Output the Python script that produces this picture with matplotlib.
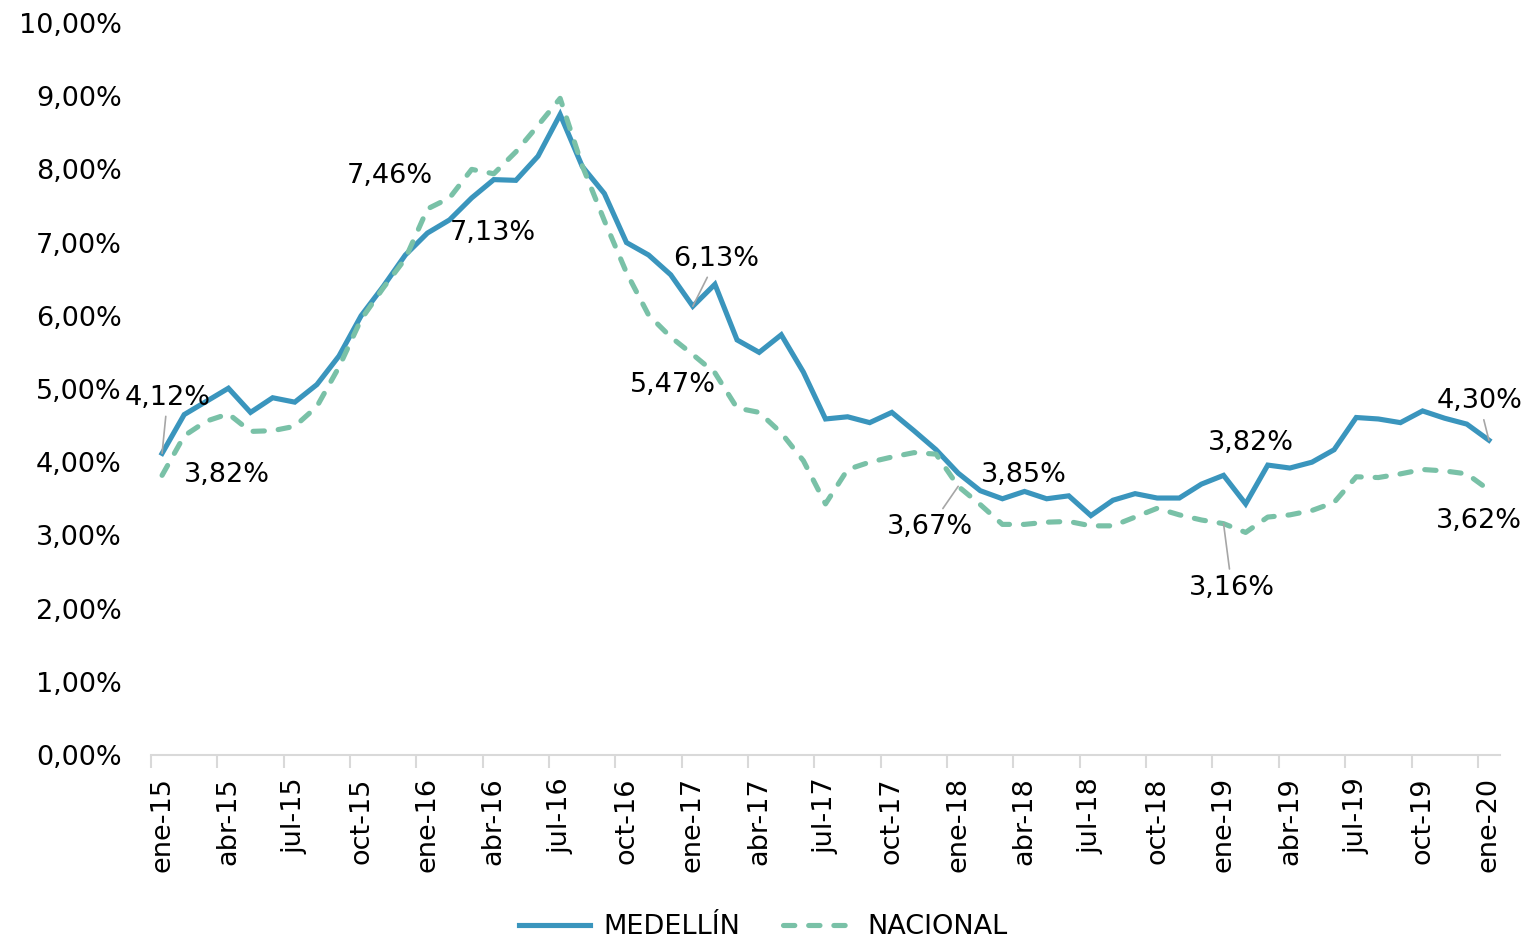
import numpy as np
import matplotlib
matplotlib.use("Agg")
import matplotlib.pyplot as plt

plt.rcParams['font.family'] = ['DejaVu Sans']

# monthly series ene-15 .. ene-20 (percent)
meses = ['ene', 'feb', 'mar', 'abr', 'may', 'jun', 'jul', 'ago', 'sep', 'oct', 'nov', 'dic']
fechas = [f"{meses[m]}-{a}" for a in range(15, 21) for m in range(12)][:61]

medellin = [4.12, 4.65, 4.83, 5.01, 4.68, 4.88, 4.82, 5.06, 5.45, 6.00,
            6.40, 6.83, 7.13, 7.31, 7.61, 7.86, 7.85, 8.18, 8.75, 8.04,
            7.67, 7.00, 6.83, 6.56, 6.13, 6.43, 5.67, 5.50, 5.74, 5.23,
            4.59, 4.62, 4.54, 4.68, 4.43, 4.17, 3.85, 3.61, 3.50, 3.60,
            3.50, 3.54, 3.27, 3.48, 3.57, 3.51, 3.51, 3.70, 3.82, 3.43,
            3.96, 3.92, 4.00, 4.17, 4.61, 4.59, 4.54, 4.70, 4.60, 4.52,
            4.30]

nacional = [3.82, 4.36, 4.56, 4.66, 4.42, 4.43, 4.49, 4.76, 5.30, 5.95,
            6.38, 6.78, 7.46, 7.61, 8.00, 7.94, 8.24, 8.60, 8.97, 8.05,
            7.30, 6.59, 6.01, 5.71, 5.47, 5.22, 4.74, 4.68, 4.40, 4.02,
            3.43, 3.90, 4.00, 4.07, 4.13, 4.11, 3.67, 3.42, 3.15, 3.15,
            3.18, 3.19, 3.13, 3.13, 3.25, 3.37, 3.28, 3.21, 3.16, 3.04,
            3.25, 3.28, 3.34, 3.45, 3.80, 3.79, 3.84, 3.90, 3.88, 3.84,
            3.62]

azul = '#3A95BD'
verde = '#79C1A7'

x = np.arange(len(fechas))

fig = plt.figure(figsize=(15.27, 9.41), dpi=100)
ax = fig.add_axes([0.0989, 0.1977, 0.8834, 0.7779])

ax.plot(x, medellin, color=azul, lw=3.7, solid_joinstyle='miter', label='MEDELLÍN')
ax.plot(x, nacional, color=verde, lw=3.7, linestyle=(0, (2.2, 2.7)),
        dash_capstyle='round', label='NACIONAL')

ax.set_xlim(-0.5, len(x) - 0.5)
ax.set_ylim(0, 10)

# y axis
ax.set_yticks(np.arange(0, 11, 1))
ax.set_yticklabels([f"{v:.2f}%".replace('.', ',') for v in np.arange(0, 11, 1)])
ax.tick_params(axis='y', length=0, pad=21, labelsize=19.5, colors='#000000')

# x axis: labels every 3 months, tick marks at category boundaries
ax.set_xticks(x[::3])
ax.set_xticklabels(fechas[::3], rotation=90)
ax.set_xticks(np.arange(-0.5, len(x) - 0.5, 3), minor=True)
ax.tick_params(axis='x', which='major', length=0, pad=16, labelsize=19.5)
ax.tick_params(axis='x', which='minor', length=9, width=1.5, color='#D9D9D9')

for s in ['top', 'right', 'left']:
    ax.spines[s].set_visible(False)
ax.spines['bottom'].set_color('#D9D9D9')
ax.spines['bottom'].set_linewidth(1.5)

# data labels: (serie, index, offset in points, leader line)
etiquetas = [
    (medellin, 0, (4, 40), True),
    (nacional, 0, (47, 0), False),
    (nacional, 12, (-27, 24), False),
    (medellin, 12, (47, 0), False),
    (medellin, 24, (17, 34), True),
    (nacional, 24, (-14, -22), False),
    (medellin, 36, (47, -1), False),
    (nacional, 36, (-20, -29), True),
    (medellin, 48, (20, 23), False),
    (nacional, 48, (6, -46), True),
    (medellin, 60, (-7, 28), True),
    (nacional, 60, (-7, -22), False),
]
for serie, i, off, linea in etiquetas:
    txt = f"{serie[i]:.2f}%".replace('.', ',')
    props = dict(arrowstyle='-', color='#A6A6A6', lw=1.2, shrinkA=2, shrinkB=0) if linea else None
    ax.annotate(txt, (x[i], serie[i]), xytext=off, textcoords='offset points',
                ha='center', va='center', fontsize=19.5, arrowprops=props)

fig.legend(loc='lower center', ncol=2, frameon=False, fontsize=19.5,
           handlelength=2.6, handletextpad=0.5, columnspacing=1.6,
           bbox_to_anchor=(0.5, -0.025))

fig.savefig('out.png', dpi=100)
